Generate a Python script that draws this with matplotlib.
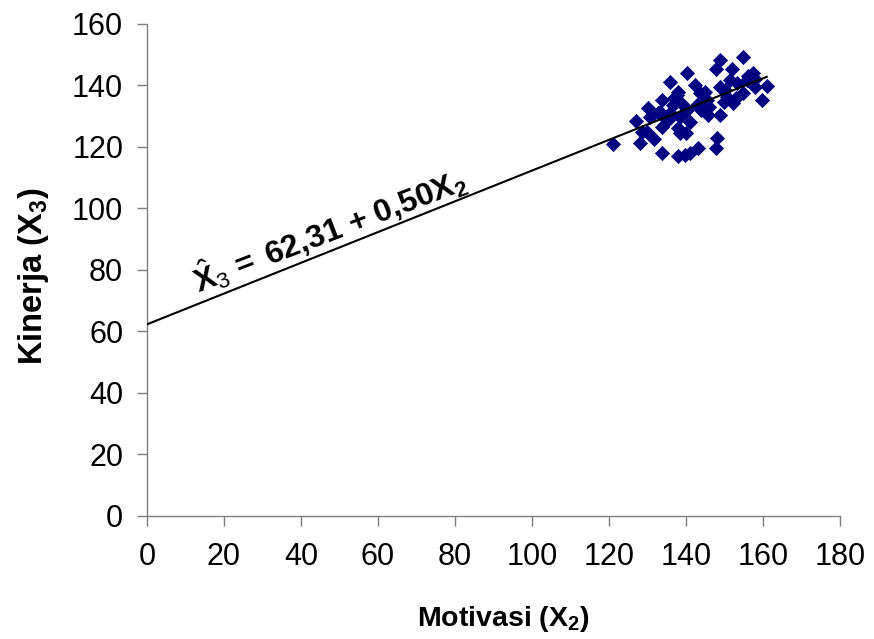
import numpy as np
import matplotlib
matplotlib.use("Agg")
import matplotlib.pyplot as plt

plt.rcParams['font.family'] = ['Liberation Sans', 'DejaVu Sans']
plt.rcParams['mathtext.fontset'] = 'custom'
plt.rcParams['mathtext.rm'] = 'Liberation Sans'
plt.rcParams['mathtext.bf'] = 'Liberation Sans:bold'
plt.rcParams['mathtext.it'] = 'Liberation Sans:italic'

# motivasi (X2) dan kinerja (X3) responden
motivasi = [121, 127, 128.5, 128, 131.8, 130.2, 133.7, 138, 141, 143.2,
            148, 147.8, 135.8, 140.2, 148.8, 154.9, 147.8, 152.1, 159.7, 161,
            142.3, 138, 133.7, 136.7, 133.2, 135.4, 138.4, 141, 138, 133.7,
            145.8, 148.8, 143.6, 145.4, 142.8, 140.2, 148.8, 150.6, 152.3, 153.2,
            155.8, 157.5, 157.9, 154.9, 151.4, 150.1, 130.6, 134, 144, 140,
            137, 145, 150, 156, 153, 158, 136, 139, 130, 146,
            138.4, 137.6, 132.8, 139.7]
kinerja = [121, 128.5, 125, 121.2, 122.5, 132.8, 118, 117, 118, 119.6,
           122.8, 119.6, 141.2, 144, 148.3, 149.4, 145.3, 145.3, 135.3, 139.8,
           140.2, 138, 135.3, 133.7, 131.5, 128.8, 129.9, 128.2, 126.1, 126.6,
           130.4, 130.4, 137.5, 135.3, 133.7, 132, 139.6, 136.4, 134.2, 140.7,
           141.8, 144, 139.6, 137.5, 141.8, 138.5, 129.9, 130, 132, 124.5,
           136, 138, 134.5, 143, 136, 142, 131, 134, 125, 133,
           124.4, 136.9, 131, 117.4]

# persamaan regresi
a, b = 62.31, 0.50

fig = plt.figure(figsize=(8.74, 6.39), dpi=100)
ax = fig.add_axes([0.168, 0.1925, 0.793, 0.77])

ax.scatter(motivasi, kinerja, marker='D', s=52, color='#000080',
           edgecolors='#000080', linewidths=0.5, zorder=3)

xg = np.array([0, max(motivasi)])
ax.plot(xg, a + b * xg, color='black', lw=1.5, zorder=4)

ax.text(47.5, 93,
        r'$\hat{\mathbf{X}}_{3}\,\mathbf{=}\;\mathbf{62{,}31}\ \mathbf{+}\ \mathbf{0{,}50X}_{\mathbf{2}}$',
        fontsize=23, rotation=21, ha='center', va='center',
        rotation_mode='anchor')

ax.set_xlim(0, 180)
ax.set_ylim(0, 160)
ax.set_xticks(np.arange(0, 181, 20))
ax.set_yticks(np.arange(0, 161, 20))

for s in ['top', 'right']:
    ax.spines[s].set_visible(False)
for s in ['left', 'bottom']:
    ax.spines[s].set_color('#7f7f7f')
    ax.spines[s].set_linewidth(1.0)

ax.tick_params(axis='both', direction='out', length=7, width=1,
               color='#7f7f7f', labelsize=22)
ax.tick_params(axis='x', pad=12)
ax.tick_params(axis='y', pad=10)

ax.set_xlabel(r'Motivasi (X$_{\mathbf{2}}$)', fontsize=20.5, fontweight='bold')
ax.set_ylabel(r'Kinerja (X$_{\mathbf{3}}$)', fontsize=23.5, fontweight='bold')
ax.xaxis.set_label_coords(0.515, -0.178)
ax.yaxis.set_label_coords(-0.138, 0.488)

fig.savefig('out.png', dpi=100)
